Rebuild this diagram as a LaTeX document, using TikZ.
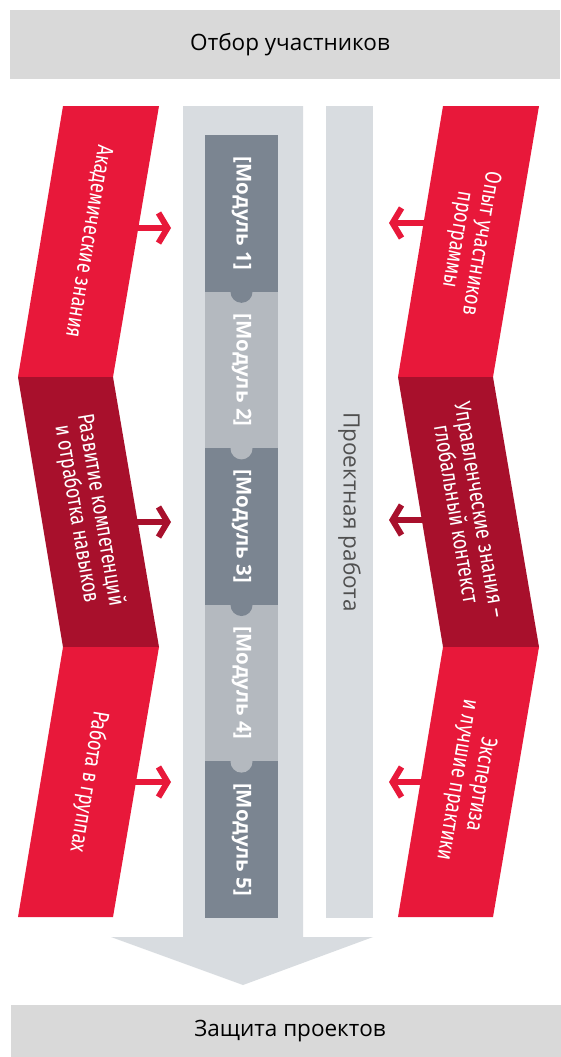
\documentclass[tikz,border=0pt]{standalone}
\usepackage{fontspec}
\setmainfont{Open Sans}
\newfontfamily\ribbonfont{Fira Sans}
\usetikzlibrary{arrows.meta}
\definecolor{RibRed}{RGB}{232,24,58}
\definecolor{RibDark}{RGB}{168,16,44}
\definecolor{ModDark}{RGB}{123,133,145}
\definecolor{ModLight}{RGB}{180,185,191}
\definecolor{BandGray}{RGB}{216,220,224}
\definecolor{BarGray}{RGB}{217,217,217}
\definecolor{TextGray}{RGB}{80,80,80}
\tikzset{
  bar/.style={fill=BarGray,minimum width=550pt,inner sep=0pt,
    font=\fontsize{22.5}{26}\selectfont},
  modbox/.style={rotate=-90,minimum width=156.6pt,minimum height=73pt,inner sep=0pt,
    text=white,font=\fontsize{20.5}{24}\selectfont\bfseries},
  ribtext/.style={text=white,align=center,inner sep=0pt,xscale=0.78,
    font=\ribbonfont\fontsize{23}{24}\selectfont},
  push/.style={line width=6pt,-{Straight Barb[length=9pt,width=30pt]}},
}
\begin{document}
\begin{tikzpicture}[x=1pt,y=-1pt]
\useasboundingbox (0,0) rectangle (560,1057);
\fill[white] (0,0) rectangle (560,1057);
% start and finish
\node[bar,minimum height=69pt] (start) at (285,44.5) {\hspace*{10pt}Отбор участников};
\node[bar,minimum height=52pt] (finish) at (286,1031) {\hspace*{8pt}Защита проектов};
% central band with arrow head
\fill[BandGray] (183,106) -- (303,106) -- (303,937) -- (373,937) -- (243,985)
  -- (111,937) -- (183,937) -- cycle;
\node[fill=BandGray,rotate=-90,minimum width=812pt,minimum height=47pt,inner sep=0pt,
  text=TextGray,font=\fontsize{22.5}{26}\selectfont] (proj) at (349.5,512) {Проектная работа};
% modules
\foreach \i/\c in {1/ModDark,2/ModLight,3/ModDark,4/ModLight,5/ModDark}
  \node[modbox,fill=\c] (m\i) at (241.5,{135+156.6*(\i-0.5)}) {[Модуль \i]};
\foreach \i/\c in {1/ModDark,2/ModLight,3/ModDark,4/ModLight}
  \fill[\c] (m\i.east) circle (11pt);
% ribbons
\foreach \dx in {0,380} {
  \fill[RibRed] (63+\dx,106) -- (159+\dx,106) -- (113+\dx,377) -- (18+\dx,377) -- cycle;
  \fill[RibDark] (18+\dx,377) -- (113+\dx,377) -- (159+\dx,647) -- (63+\dx,647) -- cycle;
  \fill[RibRed] (63+\dx,647) -- (159+\dx,647) -- (113+\dx,917) -- (18+\dx,917) -- cycle;
}
\node[rotate=-99.5,ribtext] (l1) at (88.3,241.5) {Академические знания};
\node[rotate=-80.5,ribtext] (l2) at (88.3,512) {Развитие компетенций\\и отработка навыков};
\node[rotate=-99.5,ribtext] (l3) at (88.3,782) {Работа в группах};
\node[rotate=-99.5,ribtext] (r1) at (468.3,241.5) {Опыт участников\\программы};
\node[rotate=-80.5,ribtext] (r2) at (468.3,512) {Управленческие знания –\\глобальный контекст};
\node[rotate=-99.5,ribtext] (r3) at (468.3,782) {Экспертиза\\и лучшие практики};
% arrows into the band
\foreach \n/\y in {1/228,2/522,3/782} {
  \coordinate (la\n) at (132,\y);
  \coordinate (lt\n) at (171,\y);
}
\foreach \n/\y in {1/223,2/520,3/782} {
  \coordinate (ra\n) at (430,\y);
  \coordinate (rt\n) at (389,\y);
}
\draw[push,RibRed] (la1) -- (lt1);
\draw[push,RibDark] (la2) -- (lt2);
\draw[push,RibRed] (la3) -- (lt3);
\draw[push,RibRed] (ra1) -- (rt1);
\draw[push,RibDark] (ra2) -- (rt2);
\draw[push,RibRed] (ra3) -- (rt3);
\end{tikzpicture}
\end{document}
